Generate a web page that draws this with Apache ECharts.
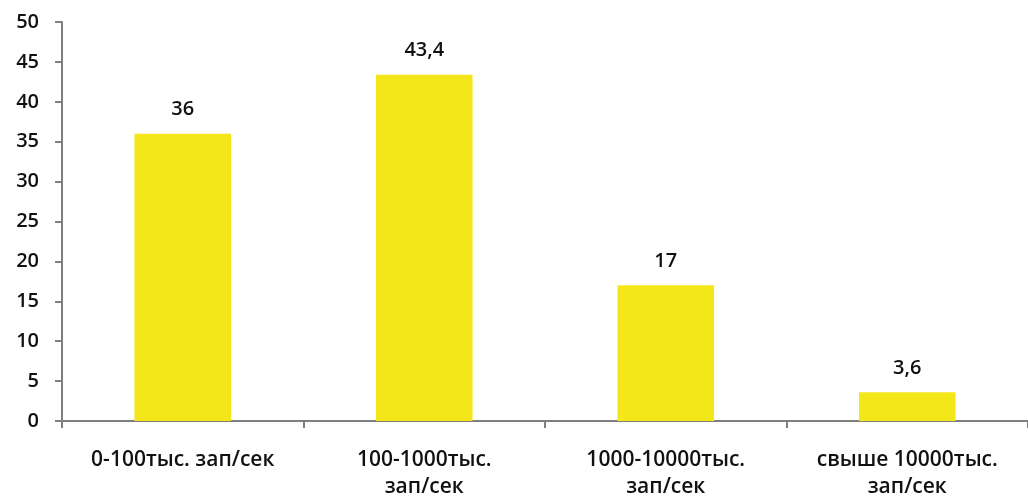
<!DOCTYPE html>
<html>
<head>
<meta charset="utf-8">
<script src="https://cdn.jsdelivr.net/npm/echarts@6/dist/echarts.min.js"></script>
<style>
  html, body { margin: 0; padding: 0; background: #fff; }
  #chart { width: 1028px; height: 501px; }
</style>
</head>
<body>
<div id="chart"></div>
<script>
// Category names (line breaks as they are laid out under the axis)
const categories = [
  '0-100тыс. зап/сек',
  '100-1000тыс.\nзап/сек',
  '1000-10000тыс.\nзап/сек',
  'свыше 10000тыс.\nзап/сек'
];
// Share of systems per throughput class
const values = [36, 43.4, 17, 3.6];
// Value axis range
const yMin = 0, yMax = 50, yStep = 5;

const fmt = v => String(v).replace('.', ',');
const font = '"Open Sans", "Noto Sans", sans-serif';

const chart = echarts.init(document.getElementById('chart'), null, { renderer: 'canvas' });
chart.setOption({
  animation: false,
  grid: { left: 62, right: -8, top: 22, bottom: 69, containLabel: false },
  xAxis: {
    type: 'category',
    data: categories,
    axisLine: { lineStyle: { color: '#7f7f7f', width: 2 } },
    axisTick: { show: true, length: 7, lineStyle: { color: '#7f7f7f', width: 2 } },
    axisLabel: {
      color: '#111', fontFamily: font, fontSize: 21, fontWeight: 600,
      margin: 26, lineHeight: 27, interval: 0
    },
    splitLine: { show: false }
  },
  yAxis: {
    type: 'value',
    min: yMin, max: yMax, interval: yStep,
    axisLine: { show: true, lineStyle: { color: '#7f7f7f', width: 2 } },
    axisTick: { show: true, length: 7, lineStyle: { color: '#7f7f7f', width: 2 } },
    axisLabel: { color: '#111', fontFamily: font, fontSize: 20, fontWeight: 600, margin: 23 },
    splitLine: { show: false }
  },
  series: [{
    type: 'bar',
    data: values,
    barWidth: '40%',
    itemStyle: { color: '#F3E719' },
    label: {
      show: true, position: 'top', distance: 14,
      color: '#111', fontFamily: font, fontSize: 20, fontWeight: 600,
      formatter: p => fmt(p.value)
    }
  }]
});
</script>
</body>
</html>
